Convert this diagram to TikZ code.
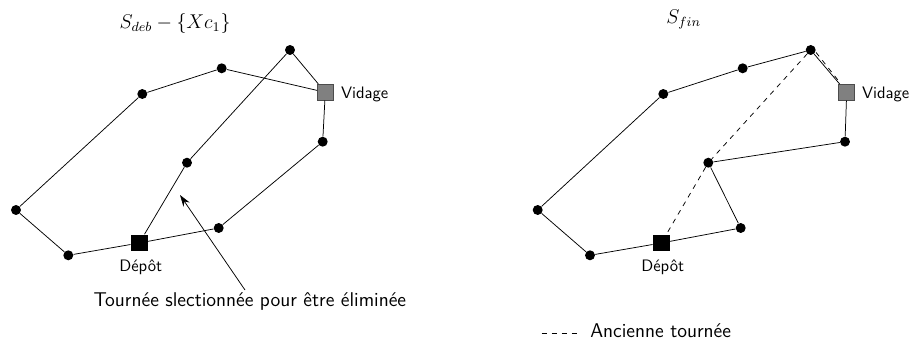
\documentclass[tikz,border=0pt]{standalone}
\usetikzlibrary{arrows.meta}
\begin{document}
\begin{tikzpicture}[x=0.6024pt,y=-0.6024pt,
  dot/.style={circle,fill=black,inner sep=0pt,minimum size=6pt},
  depot/.style={rectangle,fill=black,inner sep=0pt,minimum size=10.2pt},
  vidage/.style={rectangle,fill=gray,draw=black!70,line width=0.3pt,inner sep=0pt,minimum size=9.6pt},
  lbl/.style={font=\sffamily,inner sep=0pt},
  biglbl/.style={font=\sffamily\large,inner sep=0pt},
  ttl/.style={font=\large,inner sep=0pt,anchor=base},
  edge/.style={line width=0.45pt},
  old/.style={line width=0.45pt,dashed}]
\useasboundingbox (0,0) rectangle (911,345);
% ---------- left panel ----------
\node[ttl] (t1) at (175,28.3) {$S_{deb}-\{Xc_1\}$};
\node[dot] (a1) at (290,50) {};
\node[dot] (b1) at (221.7,68.3) {};
\node[dot] (c1) at (142.3,94) {};
\node[vidage] (v1) at (325.3,92.3) {};
\node[dot] (r1) at (322.7,141.7) {};
\node[dot] (m1) at (187,162.7) {};
\node[dot] (l1) at (16,210) {};
\node[dot] (bl1) at (68.3,255.3) {};
\node[depot] (d1) at (139.3,243) {};
\node[dot] (br1) at (218.7,228) {};
\node[lbl,anchor=base] (dl1) at (140.7,271.5) {Dépôt};
\node[lbl,anchor=base west] (vl1) at (340.7,99) {Vidage};
\node[biglbl,anchor=base] (txt) at (249.8,307) {Tournée slectionnée pour être éliminée};
\coordinate (tail) at (245,290);
\coordinate (tip) at (180,195);
\draw[edge] (a1) -- (v1) -- (r1) -- (br1) -- (d1) -- (bl1) -- (l1) -- (c1) -- (b1) -- (v1);
\draw[edge] (a1) -- (m1) -- (d1);
\draw[edge,-{Stealth[length=7pt,width=4.5pt]}] (tail) -- (tip);
% ---------- right panel ----------
\node[ttl] (t2) at (683.7,23.3) {$S_{fin}$};
\node[dot] (a2) at (810.7,50) {};
\node[dot] (b2) at (742.7,68.3) {};
\node[dot] (c2) at (663.3,94) {};
\node[vidage] (v2) at (846.7,92.3) {};
\node[dot] (r2) at (845,141.7) {};
\node[dot] (m2) at (708.3,162.7) {};
\node[dot] (l2) at (537.7,210) {};
\node[dot] (bl2) at (590,255.3) {};
\node[depot] (d2) at (661.3,243) {};
\node[dot] (br2) at (740.7,228) {};
\node[lbl,anchor=base] (dl2) at (662.7,271.5) {Dépôt};
\node[lbl,anchor=base west] (vl2) at (861.7,99) {Vidage};
\draw[edge] (a2) -- (b2) -- (c2) -- (l2) -- (bl2) -- (d2) -- (br2) -- (m2) -- (r2) -- (v2) -- (a2);
\draw[old] (a2) -- (m2) -- (d2);
\draw[old] ([shift={(1.6,-1.3)}]a2.south east) -- ([shift={(1.6,-1.3)}]v2.north west);
% legend
\coordinate (lg1) at (541.7,333.3);
\coordinate (lg2) at (581,333.3);
\draw[old] (lg1) -- (lg2);
\node[biglbl,anchor=base west] (lgt) at (590,337.5) {Ancienne tournée};
\end{tikzpicture}
\end{document}
